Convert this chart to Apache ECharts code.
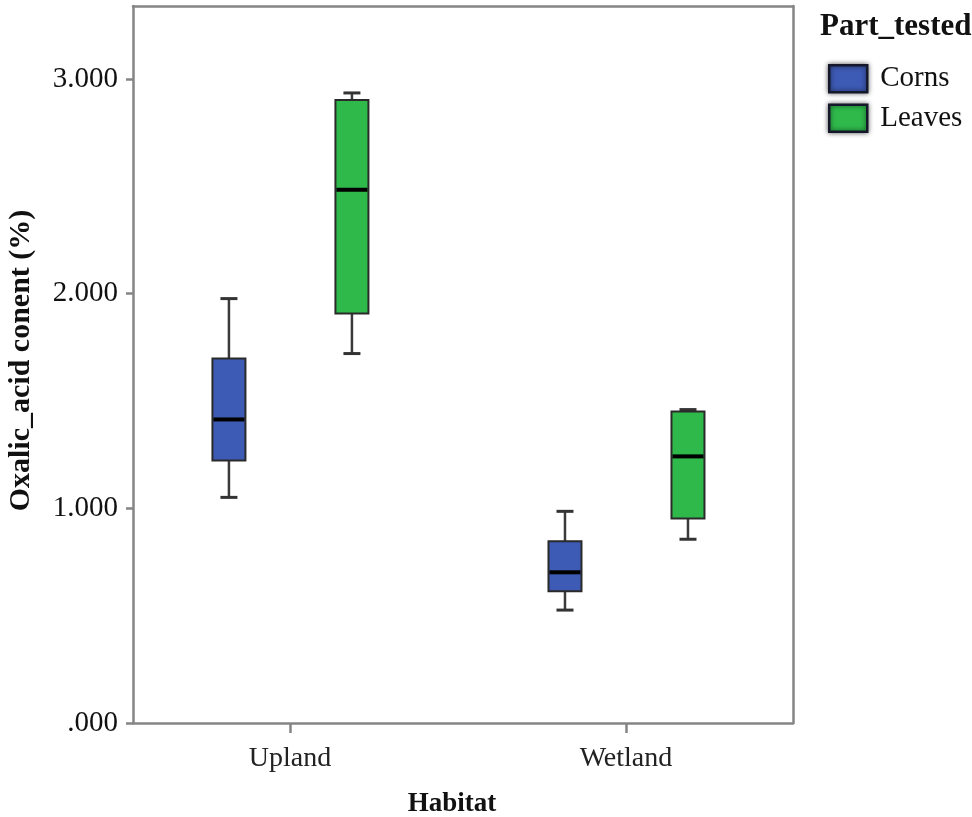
<!DOCTYPE html>
<html>
<head>
<meta charset="utf-8">
<script src="https://cdn.jsdelivr.net/npm/echarts@6/dist/echarts.min.js"></script>
<style>html,body{margin:0;padding:0;background:#fff}#c{width:972px;height:817px}</style>
</head>
<body>
<div id="c"></div>
<script>
// Data
const habitats = ['Upland', 'Wetland'];
const parts = ['Corns', 'Leaves'];
// [habitatIndex, min, Q1, median, Q3, max]
const cornsBox = [
  [0, 1.051, 1.223, 1.414, 1.698, 1.977],
  [1, 0.526, 0.614, 0.702, 0.847, 0.986]
];
const leavesBox = [
  [0, 1.721, 1.907, 2.484, 2.902, 2.935],
  [1, 0.856, 0.953, 1.242, 1.451, 1.460]
];
const yTicks = [0, 1, 2, 3];

const FONT = '"Liberation Serif", "DejaVu Serif", serif';
const colors = { Corns: '#3d5ab4', Leaves: '#2fb94b' };

function makeRender(offset) {
  return function (params, api) {
    const xv = api.value(0);
    const x = api.coord([xv, 0])[0] + offset;
    const yMin = api.coord([xv, api.value(1)])[1];
    const yQ1 = api.coord([xv, api.value(2)])[1];
    const yMed = api.coord([xv, api.value(3)])[1];
    const yQ3 = api.coord([xv, api.value(4)])[1];
    const yMax = api.coord([xv, api.value(5)])[1];
    const hw = 16.5, cap = 8.5;
    const fill = api.visual('color');
    const ls = { stroke: '#3a3a3a', lineWidth: 2.5 };
    return {
      type: 'group',
      children: [
        { type: 'line', shape: { x1: x, y1: yMax, x2: x, y2: yQ3 }, style: ls },
        { type: 'line', shape: { x1: x, y1: yQ1, x2: x, y2: yMin }, style: ls },
        { type: 'line', shape: { x1: x - cap, y1: yMax, x2: x + cap, y2: yMax }, style: { stroke: '#333', lineWidth: 3 } },
        { type: 'line', shape: { x1: x - cap, y1: yMin, x2: x + cap, y2: yMin }, style: { stroke: '#333', lineWidth: 3 } },
        { type: 'rect', shape: { x: x - hw, y: yQ3, width: 2 * hw, height: yQ1 - yQ3 },
          style: { fill: fill, stroke: '#2a2a2a', lineWidth: 2 } },
        { type: 'line', shape: { x1: x - hw + 1, y1: yMed, x2: x + hw - 1, y2: yMed }, style: { stroke: '#000', lineWidth: 4 } }
      ]
    };
  };
}

const chart = echarts.init(document.getElementById('c'), null, { renderer: 'canvas' });
const frameLine = { show: true, onZero: false, lineStyle: { color: '#858585', width: 2.5 } };
chart.setOption({
  backgroundColor: '#fff',
  animation: false,
  title: {
    text: 'Part_tested', left: 815, top: 6,
    textStyle: { fontFamily: FONT, fontWeight: 'bold', fontSize: 31, color: '#111' }
  },
  legend: {
    orient: 'vertical', left: 823, top: 59,
    itemWidth: 38, itemHeight: 27, itemGap: 10,
    icon: 'rect',
    data: parts,
    textStyle: { fontFamily: FONT, fontSize: 29, color: '#111', padding: [0, 0, 0, 8] },
    itemStyle: { borderColor: '#15182a', borderWidth: 2.5, shadowColor: 'rgba(0,0,0,0.6)', shadowBlur: 5 }
  },
  grid: { left: 133, right: 179, top: 6, bottom: 94, containLabel: false, outerBoundsMode: 'none' },
  xAxis: [{
    type: 'value', min: -0.467, max: 1.497,
    name: 'Habitat', nameLocation: 'middle', nameGap: 68,
    nameTextStyle: { fontFamily: FONT, fontWeight: 'bold', fontSize: 27, color: '#111', padding: [0, 22, 0, 0] },
    axisLine: frameLine,
    axisTick: { show: true, customValues: [0, 1], length: 10, lineStyle: { color: '#858585', width: 2.5 } },
    axisLabel: { customValues: [0, 1], formatter: v => habitats[Math.round(v)], fontFamily: FONT, fontSize: 28, color: '#222', margin: 22 },
    splitLine: { show: false }
  }, {
    type: 'value', position: 'top', min: -0.467, max: 1.497,
    axisLine: frameLine,
    axisTick: { show: false }, axisLabel: { show: false }, splitLine: { show: false }
  }],
  yAxis: [{
    type: 'value', min: 0, max: 3.34, interval: 1,
    name: 'Oxalic_acid conent (%)', nameLocation: 'middle', nameGap: 97, nameRotate: 90,
    nameTextStyle: { fontFamily: FONT, fontWeight: 'bold', fontSize: 30, color: '#111', padding: [0, 0, 0, 8] },
    axisLine: frameLine,
    axisTick: { show: true, customValues: yTicks, length: 7, lineStyle: { color: '#858585', width: 2.5 } },
    axisLabel: {
      customValues: yTicks,
      formatter: v => (v === 0 ? '.000' : v.toFixed(3)),
      fontFamily: FONT, fontSize: 29, color: '#111', margin: 15
    },
    splitLine: { show: false }
  }, {
    type: 'value', position: 'right', min: 0, max: 3.34,
    axisLine: frameLine,
    axisTick: { show: false }, axisLabel: { show: false }, splitLine: { show: false }
  }],
  series: [
    { name: 'Corns', type: 'custom', renderItem: makeRender(-61), data: cornsBox,
      itemStyle: { color: colors.Corns }, encode: { x: 0, y: [1, 2, 3, 4, 5] } },
    { name: 'Leaves', type: 'custom', renderItem: makeRender(62), data: leavesBox,
      itemStyle: { color: colors.Leaves }, encode: { x: 0, y: [1, 2, 3, 4, 5] } }
  ]
});
</script>
</body>
</html>
